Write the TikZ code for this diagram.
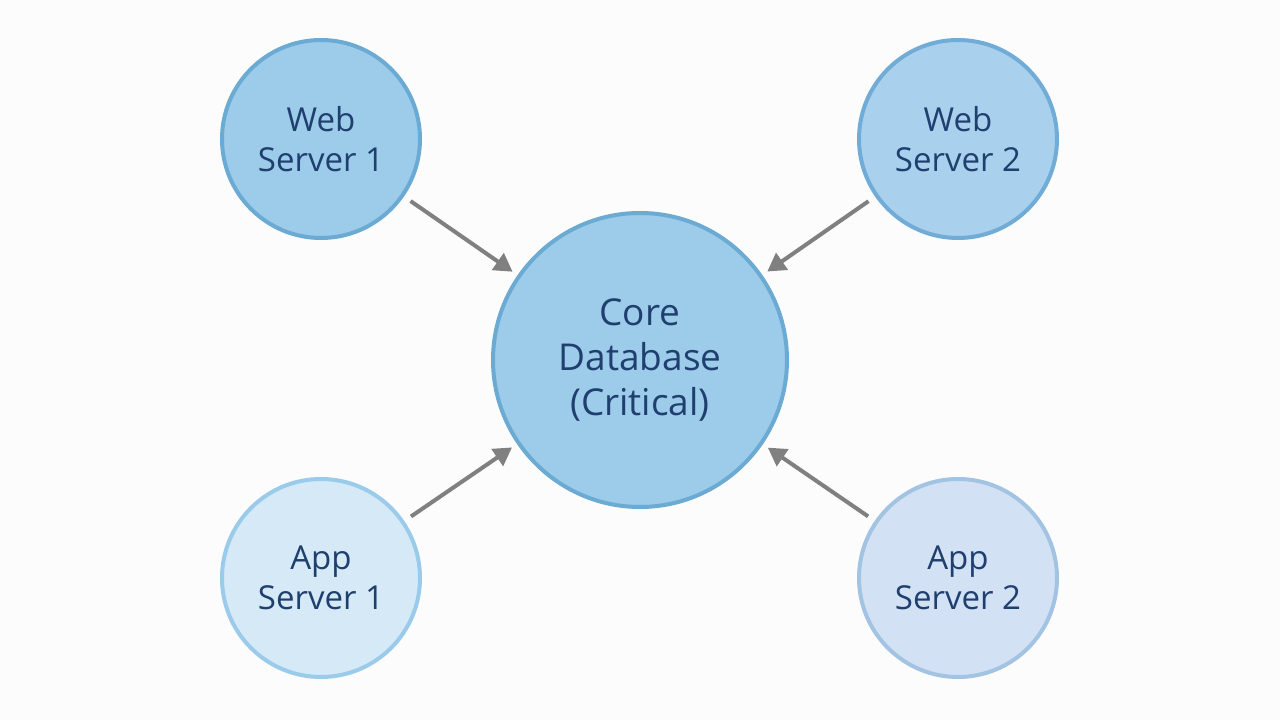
\documentclass[tikz,border=0pt]{standalone}
\usepackage{fontspec}
\setmainfont{Open Sans}
\usetikzlibrary{arrows.meta}
\definecolor{txt}{HTML}{1F3F6E}
\begin{document}
\begin{tikzpicture}[x=1pt,y=1pt,
  srv/.style={circle,line width=4pt,minimum size=198pt,inner sep=0pt,align=center,text=txt,font=\fontsize{33}{40}\selectfont},
  arr/.style={line width=4pt,draw={rgb,255:red,128;green,128;blue,128},-{Triangle[length=18pt,width=20pt]},shorten <=8pt,shorten >=6pt}]
\fill[white!98!gray] (0,0) rectangle (1280,720);
\useasboundingbox (0,0) rectangle (1280,720);
\node[srv,minimum size=294pt,fill={rgb,255:red,157;green,203;blue,234},draw={rgb,255:red,106;green,170;blue,211},font=\fontsize{37}{45}\selectfont] (db) at (640,360) {Core\\Database\\(Critical)};
\node[srv,fill={rgb,255:red,157;green,203;blue,234},draw={rgb,255:red,106;green,170;blue,211}] (w1) at (321,581) {Web\\Server 1};
\node[srv,fill={rgb,255:red,169;green,208;blue,236},draw={rgb,255:red,112;green,172;blue,214}] (w2) at (958,581) {Web\\Server 2};
\node[srv,fill={rgb,255:red,214;green,233;blue,247},draw={rgb,255:red,154;green,203;blue,234}] (a1) at (321,142) {App\\Server 1};
\node[srv,fill={rgb,255:red,210;green,226;blue,244},draw={rgb,255:red,163;green,195;blue,227}] (a2) at (958,142) {App\\Server 2};
\draw[arr] (w1) -- (db);
\draw[arr] (w2) -- (db);
\draw[arr] (a1) -- (db);
\draw[arr] (a2) -- (db);
\end{tikzpicture}
\end{document}
